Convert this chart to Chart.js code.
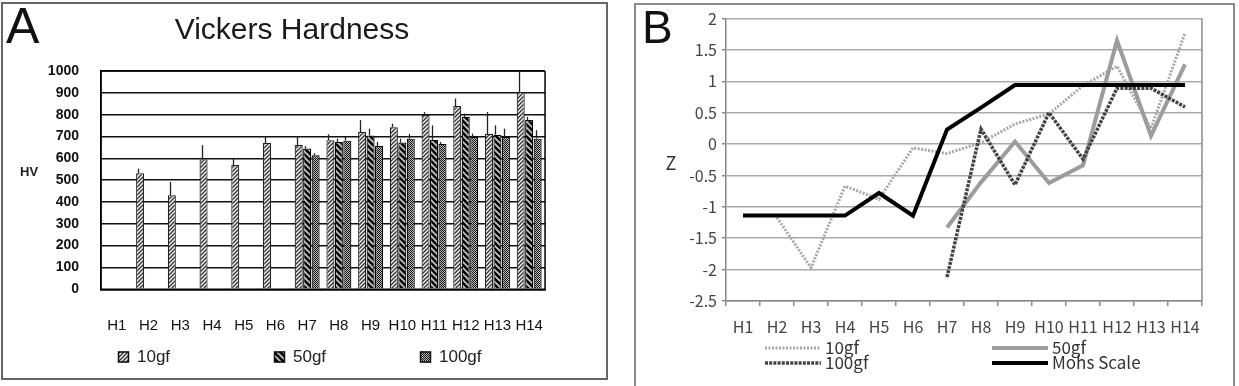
<!DOCTYPE html>
<html>
<head>
<meta charset="utf-8">
<script src="https://cdn.jsdelivr.net/npm/chart.js@4.4.1/dist/chart.umd.min.js"></script>
<style>
  body { margin: 0; background: #fff; width: 1239px; height: 386px; overflow: hidden; position: relative; }
  canvas { position: absolute; }
  .panel { position: absolute; box-sizing: border-box; border: 2px solid #666; }
</style>
</head>
<body>
<div class="panel" style="left:1px;top:2px;width:607px;height:378px"></div>
<div class="panel" style="left:634px;top:3px;width:601px;height:400px;border-color:#8a8a8a"></div>
<canvas id="hv" width="563" height="382" style="left:0;top:0"></canvas>
<canvas id="z" width="619" height="386" style="left:620px;top:0"></canvas>
<script>
// categories shared by both panels
const samples = ['H1', 'H2', 'H3', 'H4', 'H5', 'H6', 'H7', 'H8', 'H9', 'H10', 'H11', 'H12', 'H13', 'H14'];

// panel A: Vickers hardness (HV) and upward error (sd)
const hv10  = [0, 532, 431, 595, 569, 670, 662, 683, 720, 742, 798, 840, 712, 904];
const hv50  = [0, 0, 0, 0, 0, 0, 645, 675, 705, 672, 685, 790, 708, 775];
const hv100 = [0, 0, 0, 0, 0, 0, 614, 681, 656, 690, 666, 698, 698, 690];
const sd10  = [0, 21, 61, 65, 30, 31, 39, 27, 55, 17, 14, 34, 100, 94];
const sd50  = [0, 0, 0, 0, 0, 0, 11, 15, 31, 18, 66, 15, 43, 15];
const sd100 = [0, 0, 0, 0, 0, 0, 9, 17, 19, 22, 9, 15, 38, 39];
const hvRange = [0, 1000, 100];

// panel B: z scores
const z10  = [null, -1.17, -1.97, -0.67, -0.88, -0.06, -0.15, 0.02, 0.32, 0.48, 0.93, 1.24, 0.25, 1.77];
const z50  = [null, null, null, null, null, null, -1.33, -0.61, 0.04, -0.62, -0.34, 1.65, 0.13, 1.27];
const z100 = [null, null, null, null, null, null, -2.12, 0.24, -0.65, 0.5, -0.24, 0.89, 0.89, 0.59];
const mohs = [-1.14, -1.14, -1.14, -1.14, -0.78, -1.14, 0.23, 0.58, 0.94, 0.94, 0.94, 0.94, 0.94, 0.94];
const zRange = [-2.5, 2, 0.5];

function hatch(size, bg, draw) {
  const c = document.createElement('canvas');
  c.width = c.height = size;
  const g = c.getContext('2d');
  g.fillStyle = bg;
  g.fillRect(0, 0, size, size);
  draw(g, size);
  return g.createPattern(c, 'repeat');
}
const fill10 = hatch(4, '#eee', (g, s) => {
  g.strokeStyle = '#333'; g.lineWidth = 1.3;
  g.beginPath();
  g.moveTo(0, s); g.lineTo(s, 0);
  g.moveTo(-1, 1); g.lineTo(1, -1);
  g.moveTo(s - 1, s + 1); g.lineTo(s + 1, s - 1);
  g.stroke();
});
const fill50 = hatch(6, '#c8c8c8', (g, s) => {
  g.strokeStyle = '#000'; g.lineWidth = 2.6;
  g.beginPath();
  g.moveTo(0, 0); g.lineTo(s, s);
  g.moveTo(-1, s - 1); g.lineTo(1, s + 1);
  g.moveTo(s - 1, -1); g.lineTo(s + 1, 1);
  g.stroke();
});
const fill100 = hatch(2, '#bdbdbd', (g) => {
  g.fillStyle = '#111';
  g.fillRect(0, 0, 1, 1);
  g.fillRect(1, 1, 1, 1);
});

// free text (panel letters, axis names)
const notes = {
  id: 'notes',
  afterDraw(chart, args, opts) {
    const ctx = chart.ctx;
    ctx.save();
    ctx.textBaseline = 'middle';
    for (const n of opts.items || []) {
      ctx.font = n.font;
      ctx.fillStyle = n.color || '#111';
      ctx.textAlign = n.align || 'left';
      ctx.fillText(n.text, n.x, n.y);
    }
    ctx.restore();
  }
};

// legend laid out in fixed spots
const keyRows = {
  id: 'keyRows',
  afterDraw(chart, args, opts) {
    const ctx = chart.ctx;
    ctx.save();
    ctx.font = opts.font;
    ctx.textBaseline = 'middle';
    ctx.textAlign = 'left';
    chart.data.datasets.forEach((ds, i) => {
      const [x, y] = opts.spots[i];
      if (opts.kind === 'box') {
        ctx.fillStyle = ds.backgroundColor;
        ctx.fillRect(x, y - opts.size / 2, opts.size, opts.size);
        ctx.strokeStyle = '#111';
        ctx.lineWidth = 1.5;
        ctx.strokeRect(x + 0.5, y - opts.size / 2 + 0.5, opts.size - 1, opts.size - 1);
      } else {
        ctx.strokeStyle = ds.borderColor;
        ctx.lineWidth = ds.borderWidth;
        ctx.setLineDash(ds.borderDash || []);
        ctx.beginPath();
        ctx.moveTo(x, y);
        ctx.lineTo(x + opts.size, y);
        ctx.stroke();
        ctx.setLineDash([]);
      }
      ctx.fillStyle = opts.color;
      ctx.fillText(ds.label, x + opts.size + opts.gap, y);
    });
    ctx.restore();
  }
};

const errorBars = {
  id: 'errorBars',
  afterDatasetsDraw(chart) {
    const ctx = chart.ctx, ys = chart.scales.y;
    ctx.save();
    ctx.strokeStyle = '#222';
    ctx.lineWidth = 1.3;
    chart.data.datasets.forEach((ds, i) => {
      chart.getDatasetMeta(i).data.forEach((bar, j) => {
        const v = ds.data[j], e = ds.spread[j];
        if (!v || !e) return;
        const x = Math.round(bar.x - bar.width / 4) + 0.5;
        ctx.beginPath();
        ctx.moveTo(x, bar.y);
        ctx.lineTo(x, ys.getPixelForValue(v + e));
        ctx.stroke();
      });
    });
    ctx.restore();
  }
};

const frame = {
  id: 'frame',
  afterDraw(chart, args, o) {
    const { left, right, top, bottom } = chart.chartArea;
    const ctx = chart.ctx;
    ctx.save();
    ctx.strokeStyle = o.color;
    ctx.lineWidth = o.width;
    ctx.beginPath();
    if (o.sides.includes('t')) { ctx.moveTo(left, top); ctx.lineTo(right, top); }
    if (o.sides.includes('r')) { ctx.moveTo(right, top); ctx.lineTo(right, bottom); }
    if (o.sides.includes('b')) { ctx.moveTo(left, bottom); ctx.lineTo(right, bottom); }
    if (o.sides.includes('l')) { ctx.moveTo(left, top); ctx.lineTo(left, bottom); }
    ctx.stroke();
    ctx.restore();
  }
};

const fontA = 'Liberation Sans';
const fontB = 'Noto Sans CJK KR';
const plain = v => String(v);

new Chart(document.getElementById('hv'), {
  type: 'bar',
  data: {
    labels: samples,
    datasets: [
      { label: '10gf', data: hv10, spread: sd10, backgroundColor: fill10, borderColor: '#222', borderWidth: 1.2 },
      { label: '50gf', data: hv50, spread: sd50, backgroundColor: fill50, borderColor: '#000', borderWidth: 1.2 },
      { label: '100gf', data: hv100, spread: sd100, backgroundColor: fill100, borderColor: '#000', borderWidth: 1.2 }
    ]
  },
  plugins: [errorBars, frame, keyRows, notes],
  options: {
    responsive: false,
    animation: false,
    layout: { padding: { left: 23, right: 2, top: 0, bottom: 0 } },
    datasets: { bar: { categoryPercentage: 0.8, barPercentage: 0.95 } },
    scales: {
      x: {
        grid: { display: false },
        border: { display: true, color: '#000', width: 1.5 },
        ticks: { color: '#111', font: { family: fontA, size: 15, weight: '500' }, padding: 20, autoSkip: false, maxRotation: 0 },
        afterFit(s) { s.height = 92.7; }
      },
      y: {
        min: hvRange[0], max: hvRange[1],
        grid: { color: '#111', lineWidth: 1.5, drawTicks: false },
        border: { display: true, color: '#000', width: 1.5 },
        ticks: { stepSize: hvRange[2], callback: plain, color: '#111', padding: 22, font: { family: fontA, size: 14, weight: 'bold' } },
        afterFit(s) { s.width = 78; }
      }
    },
    plugins: {
      legend: { display: false },
      tooltip: { enabled: false },
      title: {
        display: true,
        text: 'Vickers Hardness',
        color: '#1a1a1a',
        font: { family: fontA, size: 30, weight: 'normal' },
        padding: { top: 13, bottom: 22 }
      },
      frame: { color: '#000', width: 1.5, sides: 'trbl' },
      keyRows: { kind: 'box', size: 11, gap: 8, font: '17px ' + fontA, color: '#222', spots: [[118, 357], [274, 357], [420, 357]] },
      notes: {
        items: [
          { text: 'A', x: 6, y: 29, font: '50px ' + fontA, color: '#111' },
          { text: 'HV', x: 20, y: 172, font: 'bold 13px ' + fontA, color: '#222' }
        ]
      }
    }
  }
});

new Chart(document.getElementById('z'), {
  type: 'line',
  data: {
    labels: samples,
    datasets: [
      { label: '10gf', data: z10, borderColor: '#a8a8a8', borderWidth: 3, borderDash: [2, 1.5], order: 3 },
      { label: '50gf', data: z50, borderColor: '#9c9c9c', borderWidth: 4, order: 2 },
      { label: '100gf', data: z100, borderColor: '#444', borderWidth: 3.5, borderDash: [3, 1.2], order: 1 },
      { label: 'Mohs Scale', data: mohs, borderColor: '#000', borderWidth: 4, order: 0 }
    ]
  },
  plugins: [frame, keyRows, notes],
  options: {
    responsive: false,
    animation: false,
    layout: { padding: { left: 0, right: 37, top: 18.5, bottom: 0 } },
    elements: { point: { radius: 0 }, line: { tension: 0, fill: false } },
    scales: {
      x: {
        offset: true,
        grid: { offset: true, drawOnChartArea: false, tickLength: 5, color: '#888', lineWidth: 1.5 },
        border: { display: true, color: '#888', width: 1.5 },
        ticks: { color: '#444', font: { family: fontB, size: 16 }, padding: 11, autoSkip: false, maxRotation: 0 },
        afterFit(s) { s.height = 85; }
      },
      y: {
        min: zRange[0], max: zRange[1],
        grid: { color: '#aaa', lineWidth: 1.5, tickLength: 4, tickColor: '#888' },
        border: { display: true, color: '#888', width: 1.5 },
        ticks: { stepSize: zRange[2], callback: plain, color: '#444', padding: 5, font: { family: fontB, size: 16 } },
        afterFit(s) { s.width = 106; }
      }
    },
    plugins: {
      legend: { display: false },
      tooltip: { enabled: false },
      frame: { color: '#8a8a8a', width: 1.5, sides: 'r' },
      keyRows: { kind: 'line', size: 56, gap: 4, font: '17px ' + fontB, color: '#333', spots: [[145, 348], [372, 348], [145, 363], [372, 363]] },
      notes: {
        items: [
          { text: 'B', x: 22, y: 30, font: '46px ' + fontA, color: '#111' },
          { text: 'Z', x: 51, y: 163, font: '18px ' + fontB, color: '#333', align: 'center' }
        ]
      }
    }
  }
});
</script>
</body>
</html>
